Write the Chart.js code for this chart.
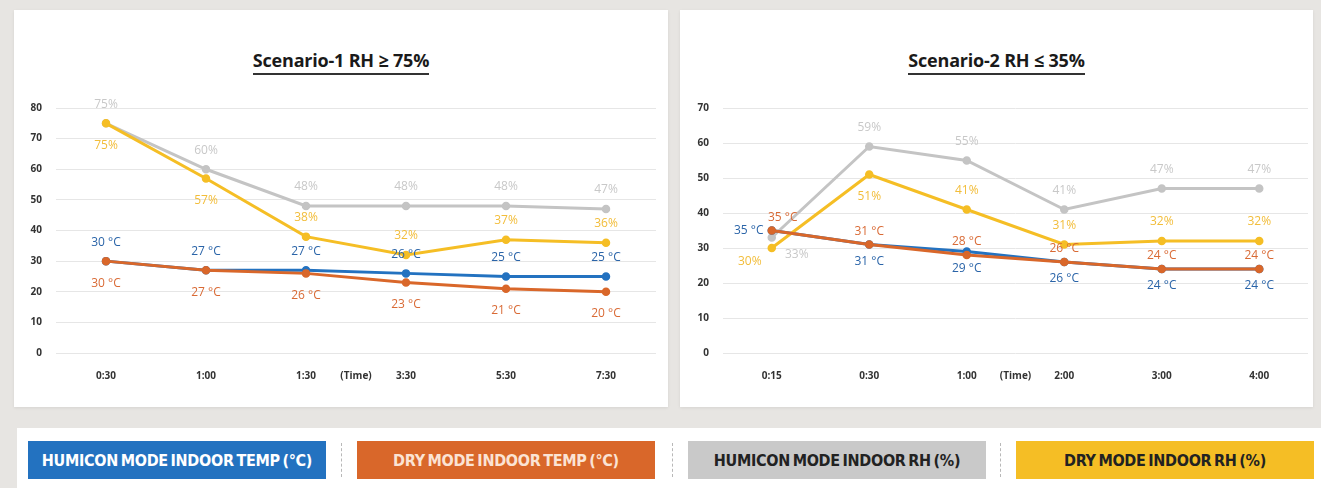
<!DOCTYPE html>
<html lang="en">
<head>
<meta charset="UTF-8" />
<title>Humicon vs Dry mode</title>
<style>
  * {margin:0; padding:0; box-sizing:border-box;}
  body {
    width: 1321px; height: 488px; overflow: hidden;
    background: #e7e5e2;
    font-family: 'Open Sans', sans-serif;
    position: relative;
  }
  .panel {
    position: absolute; top: 10px; height: 397px;
    background: #fff;
    box-shadow: 0 1px 3px rgba(0,0,0,0.08);
  }
  #p1 {left: 14px; width: 654px;}
  #p2 {left: 680px; width: 633px;}
  .panel h2 {
    position: absolute; top: 38px; left: 0; right: 0;
    text-align: center;
    font-size: 18px; font-weight: 700; color: #1a1a1a;
    letter-spacing: -0.2px;
  }
  .panel h2 span {
    border-bottom: 2px solid #333; padding-bottom: 1px;
  }
  canvas {position: absolute;}
  #c1 {left: 14px; top: 88px;}
  #c2 {left: 680px; top: 88px;}
  .legend {
    position: absolute; left: 17px; top: 428px; right: 0; bottom: 0;
    background: #fff;
  }
  .key {
    position: absolute; top: 13px; height: 38px;
    font-family: 'DejaVu Sans Condensed', 'Liberation Sans Narrow', sans-serif;
    font-weight: 700; font-size: 16px;
    display: flex; align-items: center; justify-content: center;
    letter-spacing: -0.3px; word-spacing: -2px;
  }
  .sep {
    position: absolute; top: 15px; height: 34px;
    border-left: 1px dashed #b8b8b8;
  }
</style>
</head>
<body>

<div class="panel" id="p1"><h2><span>Scenario-1 RH ≥ 75%</span></h2></div>
<div class="panel" id="p2"><h2><span>Scenario-2 RH ≤ 35%</span></h2></div>
<canvas id="c1" width="654" height="305"></canvas>
<canvas id="c2" width="633" height="305"></canvas>

<div class="legend" id="legend"></div>

<script src="https://cdn.jsdelivr.net/npm/chart.js"></script>
<script>
  // scenario 1 (RH >= 75%)
  const times1 = ['0:30', '1:00', '1:30', '3:30', '5:30', '7:30'];
  const humiconTemp1 = [30, 27, 27, 26, 25, 25];
  const dryTemp1 = [30, 27, 26, 23, 21, 20];
  const humiconRH1 = [75, 60, 48, 48, 48, 47];
  const dryRH1 = [75, 57, 38, 32, 37, 36];
  const yTicks1 = [0, 10, 20, 30, 40, 50, 60, 70, 80];

  // scenario 2 (RH <= 35%)
  const times2 = ['0:15', '0:30', '1:00', '2:00', '3:00', '4:00'];
  const humiconTemp2 = [35, 31, 29, 26, 24, 24];
  const dryTemp2 = [35, 31, 28, 26, 24, 24];
  const humiconRH2 = [33, 59, 55, 41, 47, 47];
  const dryRH2 = [30, 51, 41, 31, 32, 32];
  const yTicks2 = [0, 10, 20, 30, 40, 50, 60, 70];

  const seriesNames = ['HUMICON MODE INDOOR TEMP (°C)', 'DRY MODE INDOOR TEMP (°C)', 'HUMICON MODE INDOOR RH (%)', 'DRY MODE INDOOR RH (%)'];
  const colors = ['#2372c0', '#d9672a', '#c4c4c4', '#f5be25'];
  const labelColors = ['#2a64a8', '#d96a35', '#c8c8c8', '#f2bd3a'];
  const keyText = ['#fff', '#fbe3d4', '#222', '#222'];

  // where each value label sits around its point
  const place = {
    a: [0, -19], b: [0, 22], u: [0, -13], d: [0, 17],
    l: [-23, 0], ar: [11, -13], br: [25, 17], bl: [-22, 14]
  };

  const valueLabels = {
    id: 'valueLabels',
    afterDatasetsDraw(chart) {
      const ctx = chart.ctx;
      ctx.save();
      ctx.font = '12px "Open Sans", sans-serif';
      ctx.textAlign = 'center';
      ctx.textBaseline = 'middle';
      chart.data.datasets.forEach((ds, i) => {
        const meta = chart.getDatasetMeta(i);
        ctx.fillStyle = ds.labelColor;
        meta.data.forEach((pt, j) => {
          const o = place[ds.labelAt[j]];
          ctx.fillText(ds.data[j] + ds.unit, pt.x + o[0], pt.y + o[1]);
        });
      });
      // "(Time)" caption between the 3rd and 4th category, on the tick row
      const xs = chart.scales.x;
      const mid = (xs.getPixelForValue(2) + xs.getPixelForValue(3)) / 2;
      ctx.font = 'bold 10px "Open Sans", sans-serif';
      ctx.fillStyle = '#333';
      ctx.fillText('(Time)', mid, chart.chartArea.bottom + 23);
      ctx.restore();
    }
  };

  function makeChart(id, labels, series, yMax, yTicks, places, padRight, yWidth) {
    const datasets = series.map((data, i) => ({
      label: seriesNames[i],
      data: data,
      unit: i < 2 ? ' °C' : '%',
      labelAt: places[i],
      labelColor: labelColors[i],
      borderColor: colors[i],
      backgroundColor: colors[i],
      borderWidth: 3,
      pointRadius: 3.5,
      pointBorderWidth: 1.5,
      pointHoverRadius: 3.5,
      tension: 0,
      order: [2, 0, 3, 1][i]
    }));
    return new Chart(document.getElementById(id), {
      type: 'line',
      data: {labels: labels, datasets: datasets},
      options: {
        responsive: false,
        animation: false,
        layout: {padding: {top: 17, right: padRight, left: 0, bottom: 0}},
        plugins: {legend: {display: false}, tooltip: {enabled: false}},
        scales: {
          x: {
            offset: true,
            grid: {display: false},
            border: {display: false},
            ticks: {color: '#333', font: {size: 10, weight: 'bold', family: 'Open Sans'}, padding: 9},
            afterFit: s => { s.height = 40; }
          },
          y: {
            min: 0, max: yMax,
            afterBuildTicks: s => { s.ticks = yTicks.map(v => ({value: v})); },
            grid: {color: '#e6e6e6', drawTicks: false},
            border: {display: false},
            ticks: {color: '#333', font: {size: 10, weight: 'bold', family: 'Open Sans'}, padding: 14},
            afterFit: s => { s.width = yWidth; }
          }
        }
      },
      plugins: [valueLabels]
    });
  }

  makeChart('c1', times1, [humiconTemp1, dryTemp1, humiconRH1, dryRH1], 80, yTicks1, [
    ['a', 'a', 'a', 'a', 'a', 'a'],
    ['b', 'b', 'b', 'b', 'b', 'b'],
    ['a', 'a', 'a', 'a', 'a', 'a'],
    ['b', 'b', 'a', 'a', 'a', 'a']
  ], 12, 42);

  makeChart('c2', times2, [humiconTemp2, dryTemp2, humiconRH2, dryRH2], 70, yTicks2, [
    ['l', 'd', 'd', 'd', 'd', 'd'],
    ['ar', 'u', 'u', 'u', 'u', 'u'],
    ['br', 'a', 'a', 'a', 'a', 'a'],
    ['bl', 'b', 'a', 'a', 'a', 'a']
  ], 3, 43);

  // legend strip
  const legend = document.getElementById('legend');
  const keyLeft = [11, 340, 671, 999];
  seriesNames.forEach((name, i) => {
    const k = document.createElement('div');
    k.className = 'key';
    k.style.left = keyLeft[i] + 'px';
    k.style.width = '298px';
    k.style.background = i === 2 ? '#c9c9c9' : colors[i];
    k.style.color = keyText[i];
    k.textContent = name;
    legend.appendChild(k);
    if (i > 0) {
      const s = document.createElement('div');
      s.className = 'sep';
      s.style.left = (keyLeft[i] - 16) + 'px';
      legend.appendChild(s);
    }
  });
</script>
</body>
</html>
